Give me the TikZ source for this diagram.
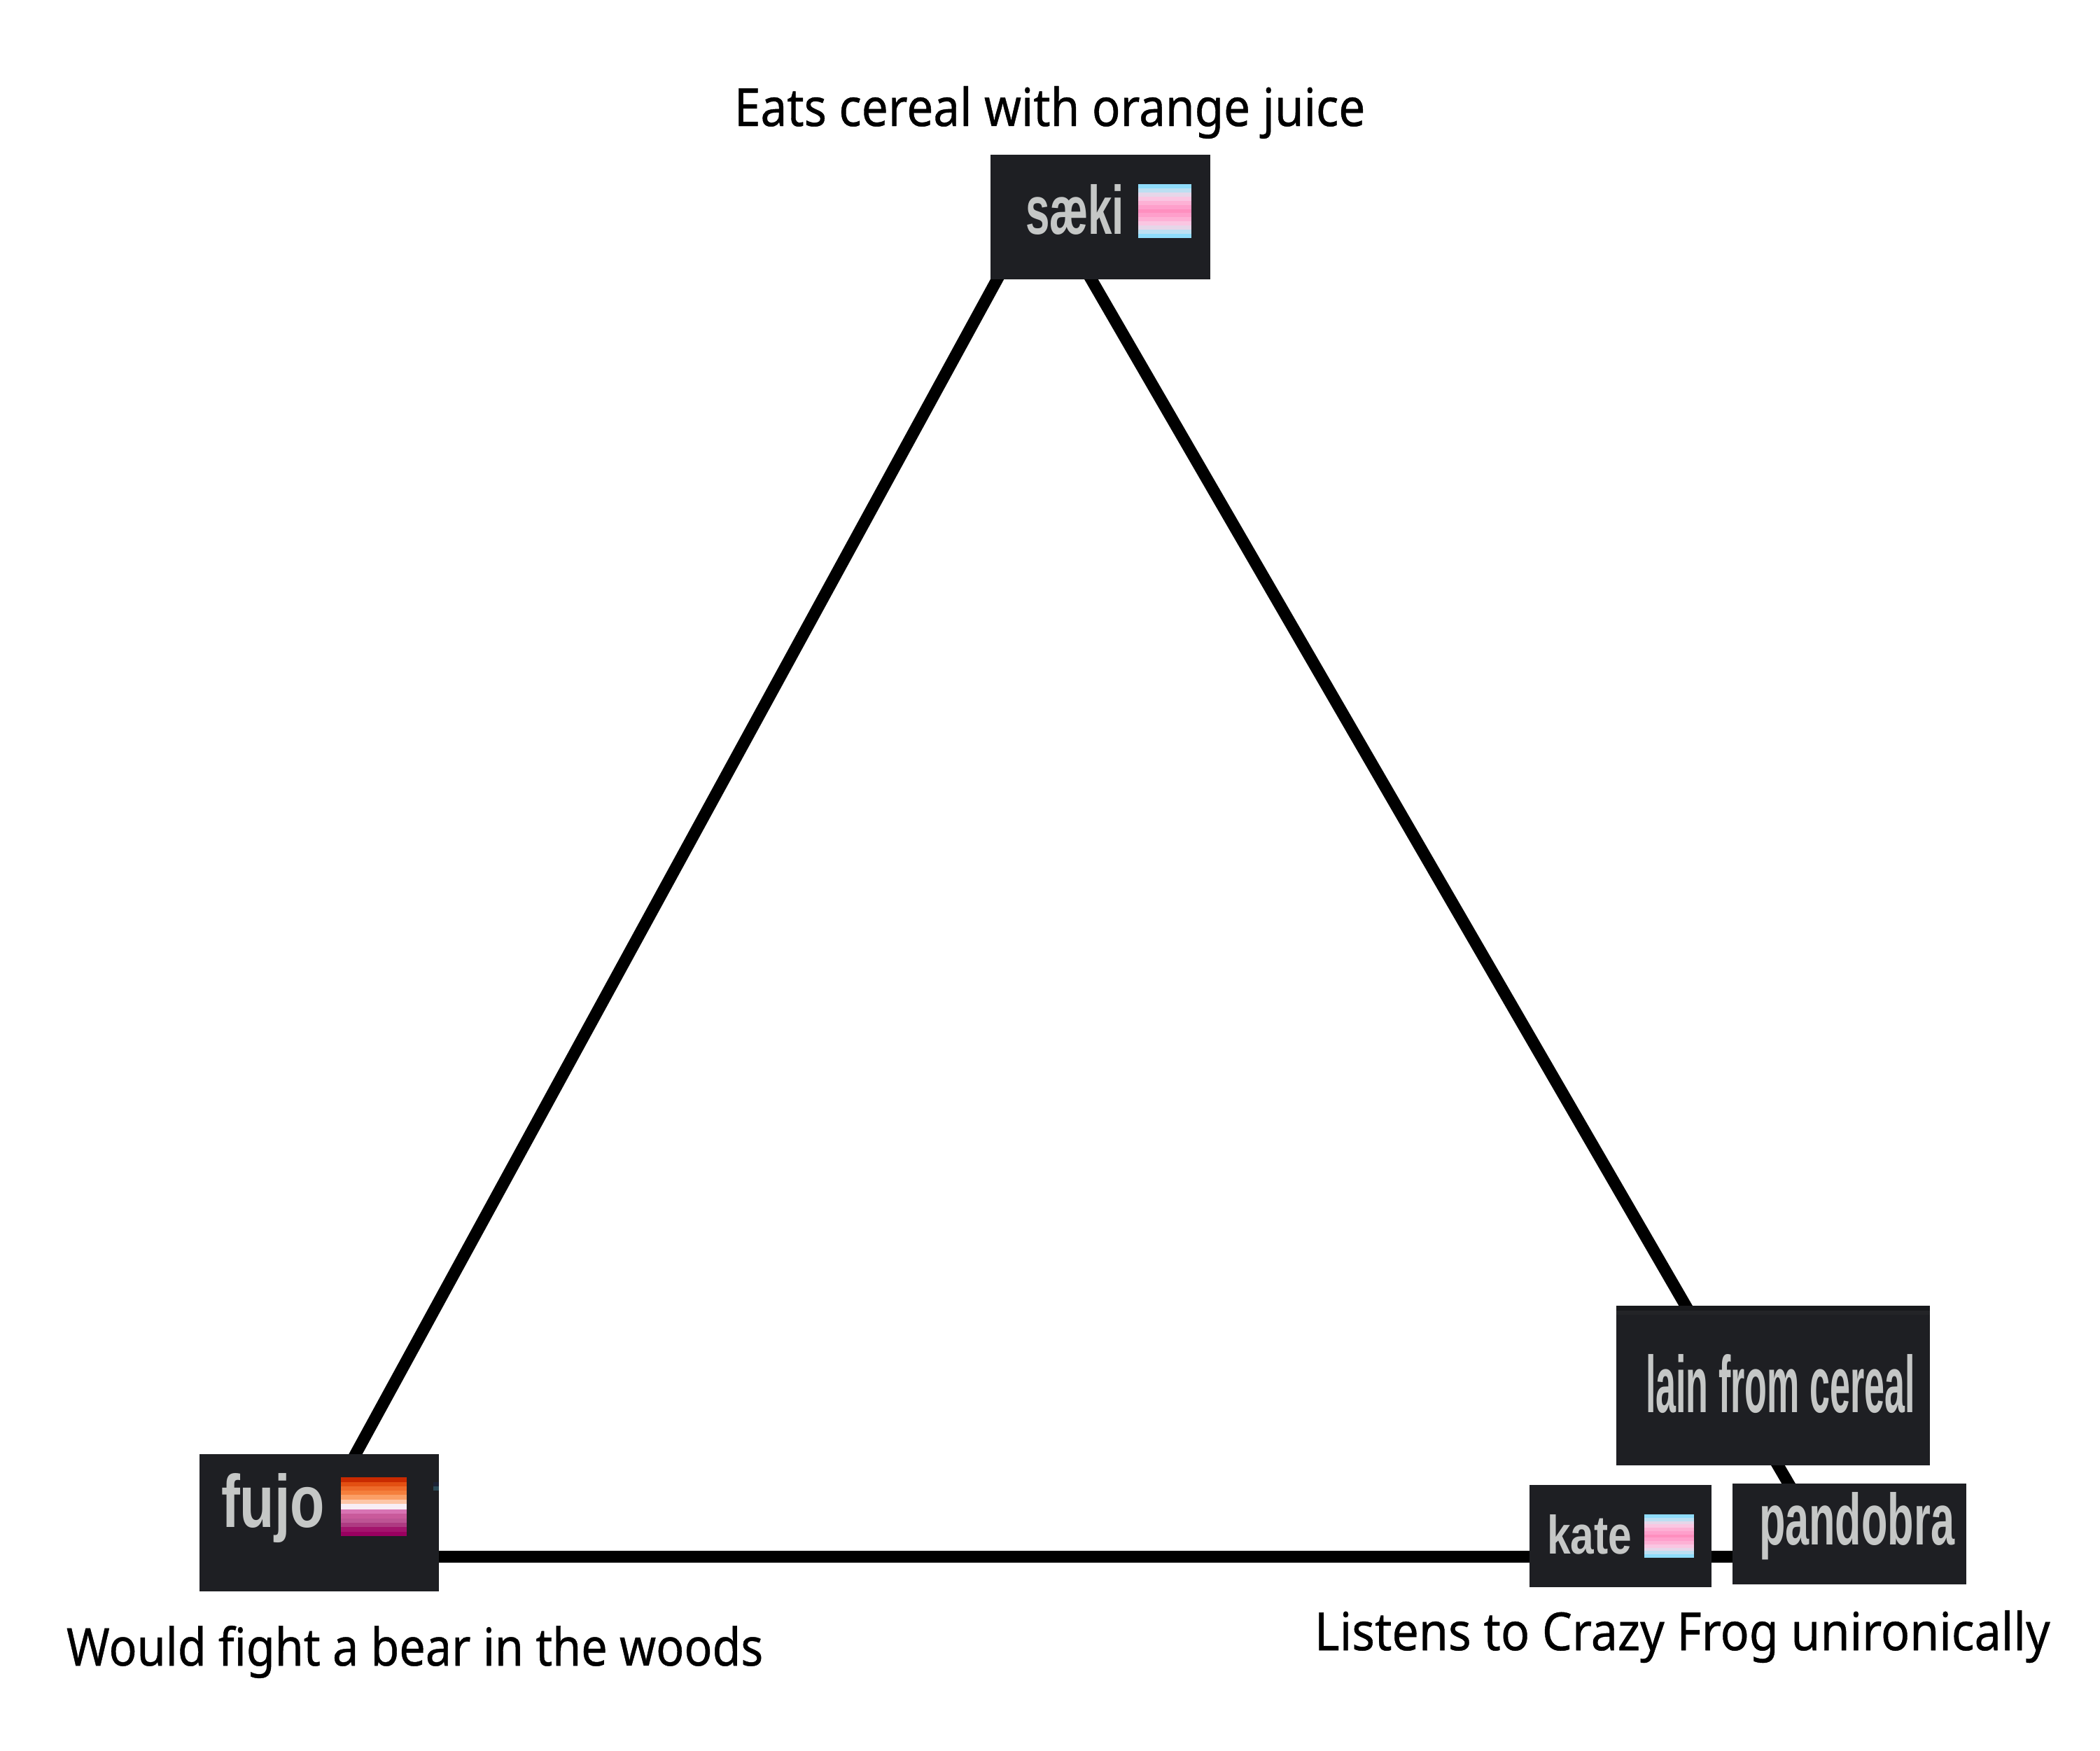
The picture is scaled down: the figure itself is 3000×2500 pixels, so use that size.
\documentclass[tikz,border=0pt]{standalone}
\usepackage{fontspec}
\usepackage{graphicx}
\setmainfont{Noto Sans}[FakeBold=0.6]
\newfontfamily\tagfont{Liberation Sans}[BoldFont={Liberation Sans Bold}]
\definecolor{panel}{HTML}{1E1F23}
\definecolor{tagtext}{HTML}{C5C7C6}
\definecolor{bitA}{HTML}{1C2236}\definecolor{bitB}{HTML}{2A4A58}
\definecolor{bandA}{HTML}{18191C}\definecolor{bandB}{HTML}{232427}
\definecolor{tA}{HTML}{8FDCFB}\definecolor{tB}{HTML}{BCDFF2}\definecolor{tC}{HTML}{E6D6E9}
\definecolor{tD}{HTML}{FAC6E2}\definecolor{tE}{HTML}{FDB1D5}\definecolor{tF}{HTML}{FE9FCB}\definecolor{tG}{HTML}{FE8FBF}
\definecolor{lA}{HTML}{C92A00}\definecolor{lB}{HTML}{E34F12}\definecolor{lC}{HTML}{EE6A2A}\definecolor{lD}{HTML}{F57F3C}
\definecolor{lE}{HTML}{FB9F66}\definecolor{lF}{HTML}{FDC6A8}\definecolor{lG}{HTML}{F8EEF6}\definecolor{lH}{HTML}{D873B3}
\definecolor{lI}{HTML}{C95A9B}\definecolor{lJ}{HTML}{BD5494}\definecolor{lK}{HTML}{AE3A82}\definecolor{lL}{HTML}{A3146D}\definecolor{lM}{HTML}{990060}
\newcommand{\transflag}[4]{%
  \foreach \c [count=\i from 0] in {tA,tB,tC,tD,tE,tF,tG,tF,tE,tD,tC,tB,tA}{%
    \fill[\c] ({#1},{#2+\i*(#4-#2)/13}) rectangle ({#3},{#2+(\i+1)*(#4-#2)/13});}}
\newcommand{\fit}[3]{\resizebox{#1pt}{#2pt}{#3}}
\pgfdeclarelayer{links}\pgfsetlayers{links,main}
\tikzset{
  x=1pt,y=-1pt,
  panelbox/.style={fill=panel,draw=none,inner sep=0,outer sep=0,anchor=north west},
  link/.style={draw=black,line width=17pt},
  tag/.style={inner sep=0,outer sep=0,anchor=base west,text=tagtext,font=\tagfont\bfseries},
  caption/.style={inner sep=0,outer sep=0,anchor=base west,text=black},
}
\begin{document}
\begin{tikzpicture}
\useasboundingbox (0,0) rectangle (3000,2500);
% panels
\node[panelbox,minimum width=314pt,minimum height=178pt] (saeki) at (1415,221) {};
\node[panelbox,minimum width=342pt,minimum height=196pt] (fujo) at (285,2077) {};
\node[panelbox,minimum width=448pt,minimum height=228pt] (lain) at (2309,1865) {};
\node[panelbox,minimum width=260pt,minimum height=146pt] (kate) at (2185,2121) {};
\node[panelbox,minimum width=334pt,minimum height=144pt] (pandobra) at (2475,2119) {};
% connectors, below the panels
\begin{pgfonlayer}{links}
\draw[link] ([xshift=21pt,yshift=21pt]saeki.south west) -- ([xshift=41pt,yshift=-20pt]fujo.north);
\draw[link] ([xshift=141pt,yshift=5pt]saeki.south west) -- ([xshift=102pt,yshift=-5pt]lain.north west);
\draw[link] ([xshift=228pt,yshift=5pt]lain.south west) -- ([xshift=83pt,yshift=-5pt]pandobra.north west);
\draw[link] ([yshift=50pt]fujo.south east) -- ([yshift=44pt]kate.south west);
\draw[link] ([yshift=44pt]kate.south east) -- ([yshift=40pt]pandobra.south west);
\end{pgfonlayer}
% top band of lain panel
\fill[bandA] (2309,1865) rectangle (2757,1872);
\fill[bandB] (2309,1872) rectangle (2757,1878);
% flags
\transflag{1626}{263}{1702}{340}
\transflag{2349}{2163}{2420}{2225}
\foreach \a/\b/\c in {2110/2117/lA,2117/2123/lB,2123/2129/lC,2129/2135/lD,2135/2142/lE,2142/2148/lF,2148/2156/lG,2156/2162/lH,2162/2169/lI,2169/2175/lJ,2175/2181/lK,2181/2188/lL,2188/2194/lM}
  \fill[\c] (487,\a) rectangle (581,\b);
\fill[bitA] (619,2117) rectangle (627,2123);
\fill[bitB] (619,2123) rectangle (627,2129);
% panel labels
\node[tag] (tsaeki) at (1465,334) {\fit{141}{71}{sæki}};
\node[tag] (tfujo) at (316,2181) {\fit{148}{77}{fujo}};
\node[tag] (tlain) at (2351,2017) {\fit{385}{83}{lain from cereal}};
\node[tag] (tkate) at (2210,2219) {\fit{121}{56}{kate}};
\node[tag] (tpand) at (2513,2206) {\fit{279}{75}{pandobra}};
% captions
\node[caption] (c1) at (1049,180) {\fit{901}{57}{Eats cereal with orange juice}};
\node[caption] (c2) at (95,2379) {\fit{995}{57}{Would fight a bear in the woods}};
\node[caption] (c3) at (1878,2357) {\fit{1050}{57}{Listens to Crazy Frog unironically}};
\end{tikzpicture}
\end{document}
